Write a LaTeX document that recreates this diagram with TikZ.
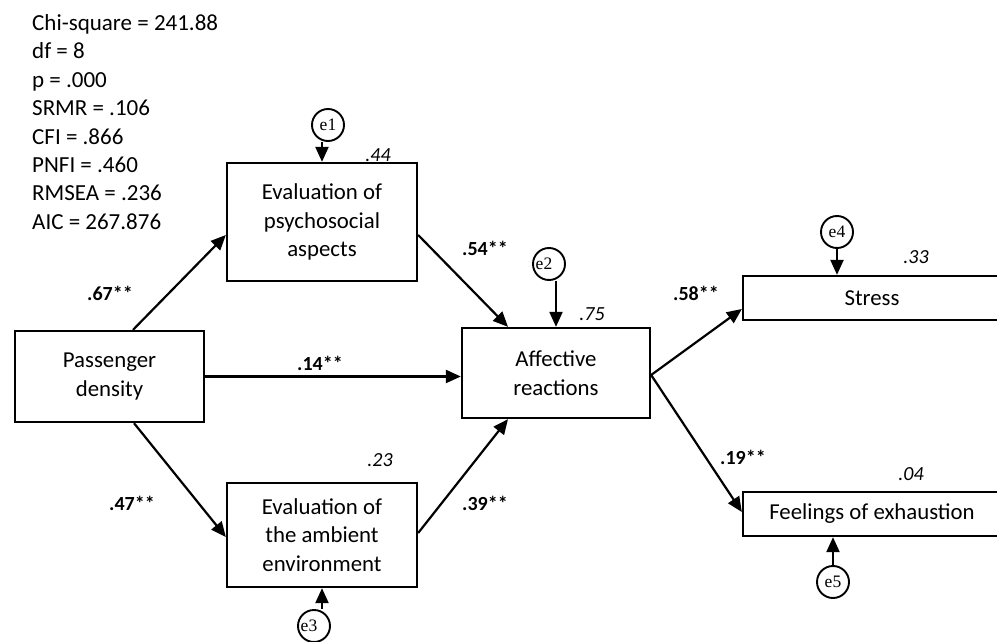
\documentclass[tikz,border=0pt]{standalone}
\usepackage{fontspec}
\setmainfont{Carlito}
\newfontfamily\errfont{Liberation Serif}
\usetikzlibrary{arrows.meta,calc}

\begin{document}
\begin{tikzpicture}[x=1pt,y=-1pt,
  box/.style={draw,line width=2.3pt,rectangle,inner sep=0pt,align=center,
    font=\fontsize{22.8}{28.5}\selectfont},
  errc/.style={draw,circle,line width=1.9pt,minimum size=32pt,inner sep=0pt,
    font=\errfont\fontsize{17.5}{18}\selectfont},
  arr/.style={line width=2.2pt,-{Triangle[length=15pt,width=13pt]}},
  coef/.style={inner sep=0pt,font=\bfseries\fontsize{20}{22}\selectfont},
  rsq/.style={inner sep=0pt,font=\itshape\fontsize{20}{22}\selectfont},
  stat/.style={anchor=base west,inner sep=0pt,font=\fontsize{23}{26}\selectfont}]

\useasboundingbox (0,0) rectangle (997,642);

% model fit statistics
\foreach \t [count=\i] in {Chi-square = 241.88, df = 8, p = .000, SRMR = .106,
    CFI = .866, PNFI = .460, RMSEA = .236, AIC = 267.876}
  \node[stat] (s\i) at (32,{30.5+28.4*(\i-1)}) {\t};

% variables
\node[box,minimum width=189pt,minimum height=91pt]  (pd)  at (109.5,376.5) {Passenger\\density};
\node[box,minimum width=190pt,minimum height=118pt] (psy) at (322,222) {Evaluation of\\psychosocial\\aspects};
\node[box,minimum width=190pt,minimum height=104pt] (amb) at (322,535) {Evaluation of\\the ambient\\environment};
\node[box,minimum width=188pt,minimum height=90pt]  (aff) at (556,373) {Affective\\reactions};
\node[box,minimum width=258pt,minimum height=44pt]  (str) at (872,298) {\raisebox{-3pt}{Stress}};
\node[box,minimum width=258pt,minimum height=44pt]  (fee) at (872,514) {\raisebox{-5pt}{Feelings of exhaustion}};

% error terms
\node[errc] (e1) at (328,125) {e1};
\node[errc] (e2) at (549,264) {\hspace*{-10pt}e2};
\node[errc] (e3) at (314,626) {\hspace*{-10pt}e3};
\node[errc] (e4) at (837,232) {e4};
\node[errc] (e5) at (833,582) {e5};

% structural paths
\draw[arr] ($(pd.north)+(23.5,0)$) -- ($(psy.west)+(0,13)$);
\draw[arr] (pd.east) -- (pd.east -| aff.west);
\draw[arr] ($(pd.south)+(24.5,0)$) -- ($(amb.west)+(0,2)$);
\draw[arr] ($(psy.east)+(0,13)$) -- ($(aff.north)+(-48,0)$);
\draw[arr] ($(amb.east)+(0,-2)$) -- ($(aff.south)+(-48,0)$);
\draw[arr] ($(aff.east)+(0,2)$) -- ($(str.west)+(0,11)$);
\draw[arr] ($(aff.east)+(0,2)$) -- ($(fee.west)+(0,-2)$);

% error paths
\draw[arr] (e1.south -| psy.north) -- (psy.north);
\draw[arr] (e2.south -| aff.north) -- (aff.north);
\draw[arr] (e3.north -| amb.south) -- (amb.south);
\draw[arr] (e4.south) -- (e4.south |- str.north);
\draw[arr] (e5.north) -- (e5.north |- fee.south);

% path coefficients
\node[coef] (c67) at (110,293) {.67**};
\node[coef] (c14) at (320,363) {.14**};
\node[coef] (c47) at (132,503) {.47**};
\node[coef] (c54) at (485,248) {.54**};
\node[coef] (c39) at (485,503) {.39**};
\node[coef] (c58) at (696,293) {.58**};
\node[coef] (c19) at (743,457) {.19**};

% explained variance
\node[rsq] (r44) at (378,155) {.44};
\node[rsq] (r75) at (592,314) {.75};
\node[rsq] (r23) at (380,460) {.23};
\node[rsq] (r33) at (916,257) {.33};
\node[rsq] (r04) at (911,474) {.04};
\end{tikzpicture}
\end{document}
